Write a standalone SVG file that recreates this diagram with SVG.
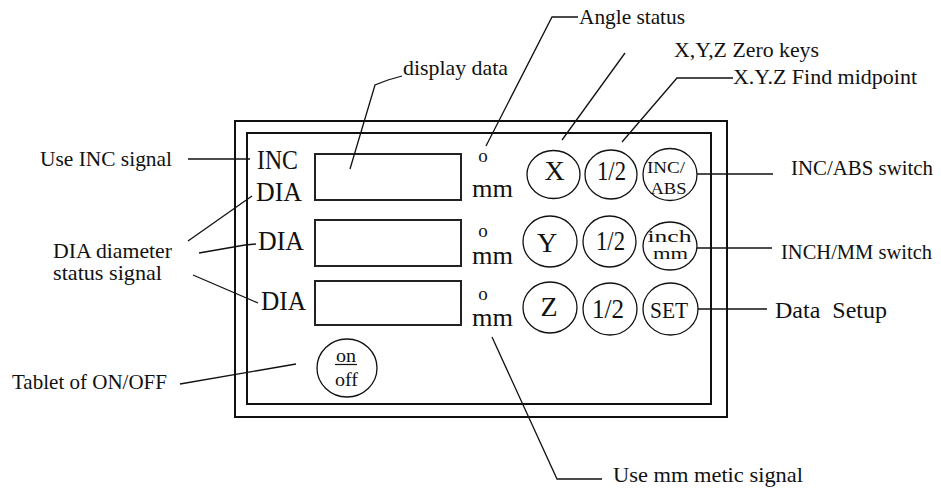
<svg xmlns="http://www.w3.org/2000/svg" width="941" height="496" viewBox="0 0 941 496">
<style>
.frame{fill:none;stroke:#111;stroke-width:2}
.disp{fill:none;stroke:#222;stroke-width:2}
.key{fill:none;stroke:#111;stroke-width:1.3}
.lead{fill:none;stroke:#111;stroke-width:1.3}
text{font-family:"Liberation Serif","Times New Roman",serif;fill:#111}
.lbl{font-size:21px}
.big{font-size:27px}
.kt{font-size:28px;text-anchor:middle}
.sm{font-size:17px;text-anchor:middle}
.deg{font-size:19px;text-anchor:middle}
</style>
<rect width="941" height="496" fill="#fff"/>
<g id="frame">
<rect class="frame" x="235" y="121" width="492" height="296"/>
<rect class="frame" x="247" y="133" width="464" height="271"/>
</g>
<g id="row1">
<text class="big" x="257" y="169" textLength="41" lengthAdjust="spacingAndGlyphs">INC</text>
<text class="big" x="256" y="201" textLength="46" lengthAdjust="spacingAndGlyphs">DIA</text>
<rect class="disp" x="315" y="154" width="146" height="46"/>
<text class="deg" x="483" y="162">o</text>
<text x="472" y="197" font-size="26" textLength="41" lengthAdjust="spacingAndGlyphs">mm</text>
</g>
<g id="row2">
<text class="big" x="258" y="250" textLength="46" lengthAdjust="spacingAndGlyphs">DIA</text>
<rect class="disp" x="315" y="220" width="146" height="46"/>
<text class="deg" x="483" y="237">o</text>
<text x="472" y="264" font-size="26" textLength="41" lengthAdjust="spacingAndGlyphs">mm</text>
</g>
<g id="row3">
<text class="big" x="261" y="310" textLength="45" lengthAdjust="spacingAndGlyphs">DIA</text>
<rect class="disp" x="315" y="281" width="146" height="44"/>
<text class="deg" x="483" y="300">o</text>
<text x="472" y="326" font-size="26" textLength="41" lengthAdjust="spacingAndGlyphs">mm</text>
</g>
<g id="key-x"><ellipse class="key" cx="553.5" cy="174.5" rx="26.5" ry="24"/><text class="kt" x="554.5" y="180">X</text></g>
<g id="key-half1"><ellipse class="key" cx="611" cy="174.5" rx="26" ry="24.5"/><text class="kt" x="611.5" y="180" textLength="29" lengthAdjust="spacingAndGlyphs">1/2</text></g>
<g id="key-incabs"><ellipse class="key" cx="670" cy="174.5" rx="27" ry="26"/><text class="sm" x="666" y="173" textLength="38" lengthAdjust="spacingAndGlyphs">INC/</text><text class="sm" x="668.5" y="194" textLength="36" lengthAdjust="spacingAndGlyphs">ABS</text></g>
<g id="key-y"><ellipse class="key" cx="550" cy="241.5" rx="27" ry="25.5"/><text class="kt" x="547" y="252">Y</text></g>
<g id="key-half2"><ellipse class="key" cx="609.5" cy="241.5" rx="26.5" ry="25.5"/><text class="kt" x="610.5" y="250" textLength="29" lengthAdjust="spacingAndGlyphs">1/2</text></g>
<g id="key-inchmm"><ellipse class="key" cx="670" cy="246" rx="27" ry="24"/><text class="sm" x="669.5" y="242" textLength="44" lengthAdjust="spacingAndGlyphs">inch</text><text class="sm" x="670.5" y="259" textLength="35" lengthAdjust="spacingAndGlyphs">mm</text></g>
<g id="key-z"><ellipse class="key" cx="550" cy="307.5" rx="27" ry="25.5"/><text class="kt" x="549" y="316">Z</text></g>
<g id="key-half3"><ellipse class="key" cx="610" cy="309" rx="27" ry="26"/><text class="kt" x="608" y="318" textLength="32" lengthAdjust="spacingAndGlyphs">1/2</text></g>
<g id="key-set"><ellipse class="key" cx="670.5" cy="309" rx="27.5" ry="26"/><text x="669" y="318" font-size="24" text-anchor="middle" textLength="38" lengthAdjust="spacingAndGlyphs">SET</text></g>
<g id="key-onoff"><ellipse class="key" cx="347" cy="368" rx="30" ry="29"/><text x="346" y="362" font-size="19" text-anchor="middle" textLength="20" lengthAdjust="spacingAndGlyphs">on</text><line x1="335" y1="364.5" x2="357" y2="364.5" stroke="#111" stroke-width="1.2"/><text x="346.5" y="386" font-size="19" text-anchor="middle" textLength="23" lengthAdjust="spacingAndGlyphs">off</text></g>
<g id="labels">
<text class="lbl" x="40" y="166" textLength="132" lengthAdjust="spacingAndGlyphs">Use INC signal</text>
<text class="lbl" x="53" y="258" textLength="119" lengthAdjust="spacingAndGlyphs">DIA diameter</text>
<text class="lbl" x="53" y="280" textLength="109" lengthAdjust="spacingAndGlyphs">status signal</text>
<text class="lbl" x="12" y="389" textLength="155" lengthAdjust="spacingAndGlyphs">Tablet of ON/OFF</text>
<text class="lbl" x="403" y="75" textLength="105" lengthAdjust="spacingAndGlyphs">display data</text>
<text class="lbl" x="579" y="24" textLength="106" lengthAdjust="spacingAndGlyphs">Angle status</text>
<text class="lbl" x="674" y="57" textLength="145" lengthAdjust="spacingAndGlyphs">X,Y,Z Zero keys</text>
<text class="lbl" x="733" y="84" textLength="184" lengthAdjust="spacingAndGlyphs">X.Y.Z Find midpoint</text>
<text x="791" y="175" font-size="21" textLength="142" lengthAdjust="spacingAndGlyphs">INC/ABS switch</text>
<text x="781" y="259" font-size="20.5" textLength="151" lengthAdjust="spacingAndGlyphs">INCH/MM switch</text>
<text x="775" y="318" font-size="23" textLength="112" lengthAdjust="spacingAndGlyphs" xml:space="preserve">Data  Setup</text>
<text class="lbl" x="613" y="482" textLength="190" lengthAdjust="spacingAndGlyphs">Use mm metic signal</text>
</g>
<g id="connectors">
<line class="lead" x1="188" y1="159" x2="250" y2="159"/>
<line class="lead" x1="188" y1="241" x2="252" y2="196"/>
<polyline class="lead" points="199,253 245,245 256,244"/>
<line class="lead" x1="193" y1="275" x2="258" y2="303"/>
<line class="lead" x1="180" y1="384" x2="296" y2="364"/>
<polyline class="lead" points="402,76 388,80 375,85 350,169"/>
<polyline class="lead" points="578,17 552,17 486,146"/>
<line class="lead" x1="625" y1="53" x2="562" y2="140"/>
<polyline class="lead" points="733,78 677,78 622,142"/>
<line class="lead" x1="697" y1="174" x2="773" y2="174"/>
<line class="lead" x1="697" y1="248" x2="772" y2="248"/>
<line class="lead" x1="698" y1="309" x2="767" y2="309"/>
<polyline class="lead" points="492,337 557,479 602,479"/>
</g>
</svg>
